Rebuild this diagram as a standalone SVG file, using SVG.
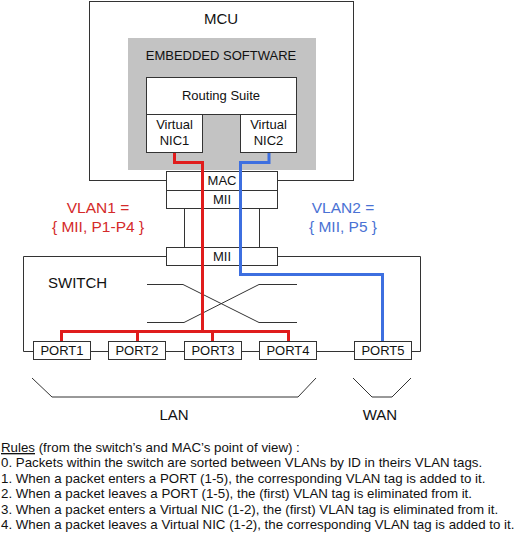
<svg xmlns="http://www.w3.org/2000/svg" width="515" height="536" viewBox="0 0 515 536">
<style>
text{font-family:"Liberation Sans",Arial,sans-serif;fill:#111}
.box{fill:#fff;stroke:#333;stroke-width:1}
.ln{fill:none;stroke:#333;stroke-width:1}
.t13{font-size:13px}
.t15{font-size:15px}
.red{fill:#d42a2a}
.blue{fill:#4a72d4}
.rule{font-size:13.3px}
</style>
<rect width="515" height="536" fill="#fff"/>
<g id="mcu">
<rect x="89.5" y="1.5" width="264" height="179" class="box"/>
<text x="221" y="24" text-anchor="middle" class="t15">MCU</text>
</g>
<g id="embedded">
<rect x="128" y="38" width="188" height="132" fill="#c3c3c3"/>
<text x="221" y="60" text-anchor="middle" class="t13">EMBEDDED SOFTWARE</text>
</g>
<g id="routing">
<rect x="146.5" y="77.5" width="150" height="37" class="box"/>
<text x="221" y="100" text-anchor="middle" class="t13">Routing Suite</text>
</g>
<g id="nic1">
<rect x="146.5" y="114.5" width="56" height="38" class="box"/>
<text x="174.5" y="129" text-anchor="middle" class="t13">Virtual</text>
<text x="174.5" y="145" text-anchor="middle" class="t13">NIC1</text>
</g>
<g id="nic2">
<rect x="240.5" y="114.5" width="56" height="38" class="box"/>
<text x="268.5" y="129" text-anchor="middle" class="t13">Virtual</text>
<text x="268.5" y="145" text-anchor="middle" class="t13">NIC2</text>
</g>
<g id="switch">
<path d="M166 256.5H23.5V351.5H33 M278 256.5H420.5V351.5H411" class="ln"/>
<text x="48" y="288" class="t15">SWITCH</text>
<path d="M147 284.5H183L259 322.5H297 M147 322.5H184L259 284.5H297" class="ln"/>
</g>
<g id="mac">
<rect x="166.5" y="171.5" width="111" height="19" class="box"/>
<text x="222" y="185" text-anchor="middle" class="t13">MAC</text>
</g>
<g id="mii-mcu">
<rect x="166.5" y="190.5" width="111" height="18" class="box"/>
<text x="222" y="204" text-anchor="middle" class="t13">MII</text>
</g>
<g id="mii-switch">
<rect x="166.5" y="247.5" width="111" height="18" class="box"/>
<text x="222" y="261" text-anchor="middle" class="t13">MII</text>
</g>
<g id="port1"><rect x="33.5" y="341.5" width="57" height="18" class="box"/><text x="62" y="355" text-anchor="middle" class="t13">PORT1</text></g>
<g id="port2"><rect x="108.5" y="341.5" width="57" height="18" class="box"/><text x="137" y="355" text-anchor="middle" class="t13">PORT2</text></g>
<g id="port3"><rect x="184.5" y="341.5" width="57" height="18" class="box"/><text x="213" y="355" text-anchor="middle" class="t13">PORT3</text></g>
<g id="port4"><rect x="259.5" y="341.5" width="57" height="18" class="box"/><text x="288" y="355" text-anchor="middle" class="t13">PORT4</text></g>
<g id="port5"><rect x="354.5" y="341.5" width="57" height="18" class="box"/><text x="383" y="355" text-anchor="middle" class="t13">PORT5</text></g>
<g id="connectors">
<path d="M90 351.5H108 M166 351.5H184 M241 351.5H259 M316 351.5H354" class="ln"/>
<path d="M166 180.5H89.5 M278 180.5H353.5" class="ln"/>
<path d="M184.5 209V247 M259.5 209V247" class="ln"/>
<path d="M174.5 153V162.5H202.5V331.5 M61.5 341V331.5H288.5V341 M137.5 341V331.5 M212.5 341V331.5" fill="none" stroke="#e01c1c" stroke-width="3"/>
<path d="M269 153V162.5H240.5V274.5H382.5V341" fill="none" stroke="#3d6fe0" stroke-width="3"/>
</g>
<g id="vlan1">
<text x="98" y="213" text-anchor="middle" class="t15 red" style="font-size:15.5px">VLAN1 =</text>
<text x="98" y="232" text-anchor="middle" class="t15 red" style="font-size:15.5px">{ MII, P1-P4 }</text>
</g>
<g id="vlan2">
<text x="343" y="213" text-anchor="middle" class="t15 blue" style="font-size:15.5px">VLAN2 =</text>
<text x="343" y="232" text-anchor="middle" class="t15 blue" style="font-size:15.5px">{ MII, P5 }</text>
</g>
<g id="lan">
<path d="M32 378L52 397H298L316 378" class="ln"/>
<text x="174" y="420" text-anchor="middle" class="t15">LAN</text>
</g>
<g id="wan">
<path d="M353 378L372 397H392L411 378" class="ln"/>
<text x="380" y="420" text-anchor="middle" class="t15">WAN</text>
</g>
<g id="rules">
<text x="1" y="452" class="rule"><tspan text-decoration="underline">Rules</tspan> (from the switch’s and MAC’s point of view) :</text>
<text x="1" y="467" class="rule">0. Packets within the switch are sorted between VLANs by ID in theirs VLAN tags.</text>
<text x="1" y="483" class="rule">1. When a packet enters a PORT (1-5), the corresponding VLAN tag is added to it.</text>
<text x="1" y="498" class="rule">2. When a packet leaves a PORT (1-5), the (first) VLAN tag is eliminated from it.</text>
<text x="1" y="514" class="rule">3. When a packet enters a Virtual NIC (1-2), the (first) VLAN tag is eliminated from it.</text>
<text x="1" y="529" class="rule">4. When a packet leaves a Virtual NIC (1-2), the corresponding VLAN tag is added to it.</text>
</g>
</svg>
